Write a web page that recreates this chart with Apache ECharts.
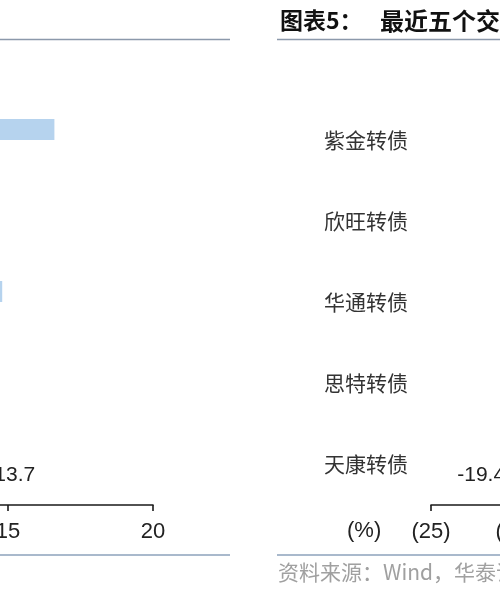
<!DOCTYPE html>
<html>
<head>
<meta charset="utf-8">
<script src="https://cdn.jsdelivr.net/npm/echarts@6/dist/echarts.min.js"></script>
<style>
  html, body { margin: 0; padding: 0; background: #fff; }
  #chart { width: 500px; height: 600px; }
</style>
</head>
<body>
<div id="chart"></div>
<script>
// 左图（只露出右侧一截）
const leftCategories = ['类别一', '类别二', '类别三', '类别四', '类别五']
const leftSeriesA = [16.6, 12.4, 14.8, 11.9, 13.1]
const leftSeriesB = [9.8, 11.2, 10.5, 8.9, 13.7]
const leftTicks = [0, 5, 10, 15, 20]

// 右图：最近五个交易日
const rightCategories = ['紫金转债', '欣旺转债', '华通转债', '思特转债', '天康转债']
const rightSeriesA = [-8.5, -10.2, -7.9, -11.4, -13.0]
const rightSeriesB = [-12.6, -14.1, -15.3, -16.2, -19.4]
const rightTicks = [-25, -20, -15, -10, -5, 0]

const numFont = 'Liberation Sans'
const cjkFont = 'Noto Sans CJK SC'

const chart = echarts.init(document.getElementById('chart'), null, { renderer: 'canvas' })

const axisX = (ticks) => ({
  type: 'value',
  min: ticks[0],
  max: ticks[ticks.length - 1],
  interval: ticks[1] - ticks[0],
  splitLine: { show: false },
  axisLine: { show: true, lineStyle: { color: '#1a1a1a', width: 1.6 } },
  axisTick: { show: true, length: 6, lineStyle: { color: '#1a1a1a', width: 1.6 } },
  axisLabel: {
    color: '#222', fontFamily: numFont, fontSize: 22, margin: 16,
    formatter: (v) => (v < 0 ? '(' + (-v) + ')' : String(v))
  }
})

const option = {
  animation: false,
  backgroundColor: '#fff',
  grid: [
    { left: -427, top: 100, width: 580, height: 405, containLabel: false, outerBoundsMode: 'none' },
    { left: 431, top: 100, width: 420, height: 405, containLabel: false, outerBoundsMode: 'none' }
  ],
  xAxis: [
    Object.assign(axisX(leftTicks), { gridIndex: 0 }),
    Object.assign(axisX(rightTicks), { gridIndex: 1 })
  ],
  yAxis: [
    {
      gridIndex: 0, type: 'category', inverse: true, data: leftCategories,
      axisLine: { show: false }, axisTick: { show: false },
      axisLabel: { color: '#333', fontFamily: cjkFont, fontSize: 21, margin: 23 }
    },
    {
      gridIndex: 1, type: 'category', inverse: true, data: rightCategories,
      axisLine: { show: false }, axisTick: { show: false },
      axisLabel: { color: '#333', fontFamily: cjkFont, fontSize: 21, margin: 23 }
    }
  ],
  series: [
    {
      type: 'bar', xAxisIndex: 0, yAxisIndex: 0, data: leftSeriesA,
      barWidth: 21, barGap: '5%', itemStyle: { color: '#b6d3ee' }
    },
    {
      type: 'bar', xAxisIndex: 0, yAxisIndex: 0, data: leftSeriesB,
      barWidth: 21, barGap: '5%', itemStyle: { color: '#2c5f9e' },
      label: {
        show: true, position: 'right', distance: 24,
        color: '#222', fontFamily: numFont, fontSize: 21
      }
    },
    {
      type: 'bar', xAxisIndex: 1, yAxisIndex: 1, data: rightSeriesA,
      barWidth: 21, barGap: '5%', itemStyle: { color: '#b6d3ee' }
    },
    {
      type: 'bar', xAxisIndex: 1, yAxisIndex: 1, data: rightSeriesB,
      barWidth: 21, barGap: '5%', itemStyle: { color: '#2c5f9e' },
      label: {
        show: true, position: 'left', distance: 20,
        color: '#222', fontFamily: numFont, fontSize: 21
      }
    }
  ],
  graphic: [
    // 标题与分隔线
    { type: 'text', left: 280, top: 9, style: { text: '图表5：', fill: '#111', font: 'bold 23px "Noto Sans CJK SC"' } },
    { type: 'text', left: 380, top: 9, style: { text: '最近五个交易日跌幅最大的转债', fill: '#111', font: 'bold 24px "Noto Sans CJK SC"' } },
    { type: 'line', shape: { x1: 0, y1: 39.5, x2: 230, y2: 39.5 }, style: { stroke: '#8c99ab', lineWidth: 1.6 } },
    { type: 'line', shape: { x1: 277, y1: 39.5, x2: 500, y2: 39.5 }, style: { stroke: '#8c99ab', lineWidth: 1.6 } },
    // 坐标单位
    { type: 'text', left: 347, top: 520, style: { text: '(%)', fill: '#222', font: '22px "Liberation Sans"' } },
    // 底部线与资料来源
    { type: 'line', shape: { x1: 0, y1: 555, x2: 230, y2: 555 }, style: { stroke: '#a9b9cc', lineWidth: 2 } },
    { type: 'line', shape: { x1: 277, y1: 555, x2: 500, y2: 555 }, style: { stroke: '#a9b9cc', lineWidth: 2 } },
    { type: 'text', left: 278, top: 562, style: { text: '资料来源：Wind，华泰证券研究所', fill: '#a0a0a0', font: '21px "Noto Sans CJK SC"' } }
  ]
}

chart.setOption(option)
</script>
</body>
</html>
